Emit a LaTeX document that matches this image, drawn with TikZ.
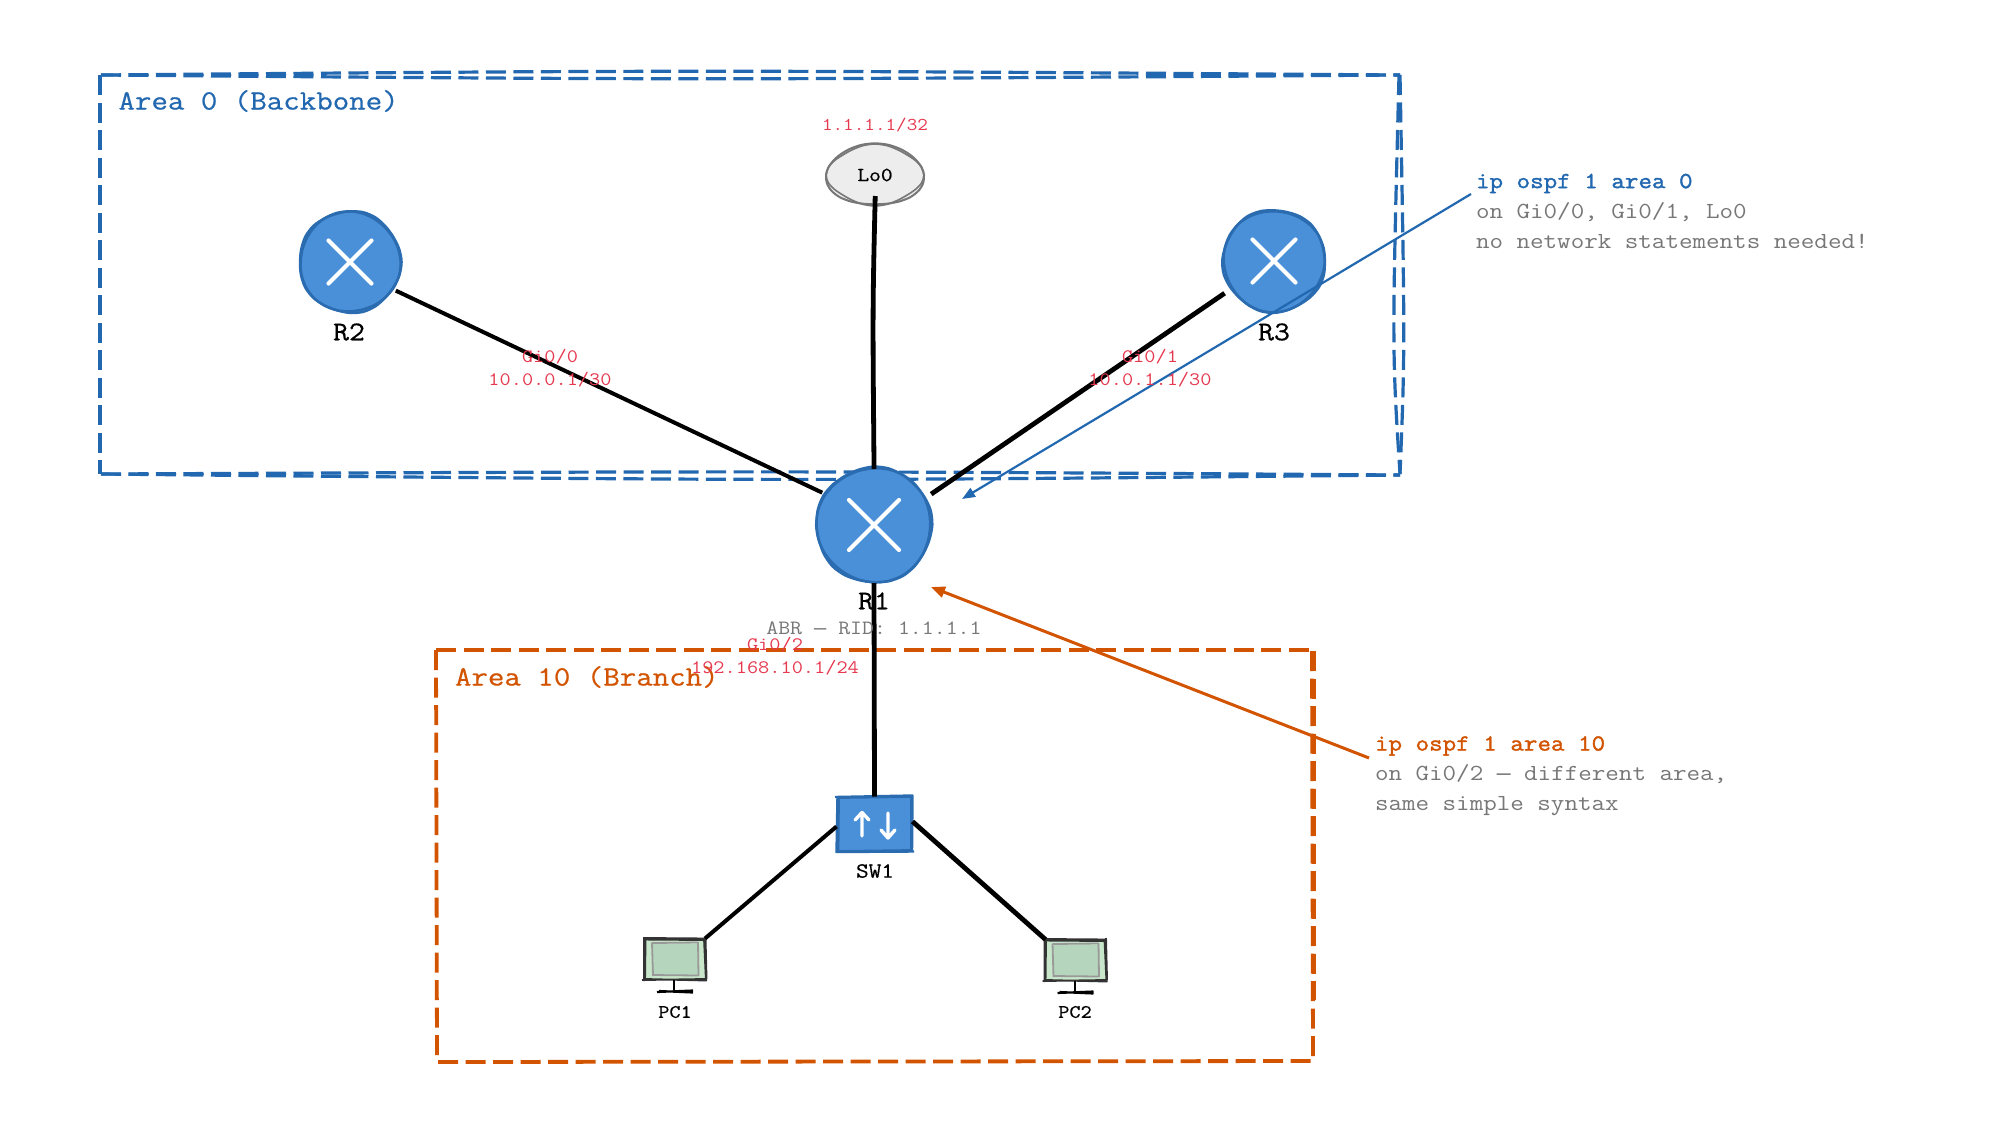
\documentclass[tikz,border=0pt]{standalone}
\usepackage{fontspec}
\usetikzlibrary{arrows.meta,calc,shapes.geometric}
\newfontfamily\mono[FakeStretch=1.143]{Latin Modern Mono}
\newfontfamily\monob[FakeStretch=1.143,FakeBold=1.6]{Latin Modern Mono}
\newfontfamily\monom[FakeStretch=1.143,FakeBold=0.6]{Latin Modern Mono}
\newfontfamily\dashfont{Liberation Mono}
\newcommand{\fsz}[2]{\fontsize{#1pt}{#2pt}\selectfont}
\definecolor{areablue}{HTML}{2268B0}
\definecolor{areaorange}{HTML}{D35400}
\definecolor{nodeblue}{HTML}{4A90D9}
\definecolor{strokeblue}{HTML}{2B6CB0}
\definecolor{linkred}{HTML}{E63950}
\definecolor{notegray}{HTML}{777777}
\definecolor{pcouter}{HTML}{C8E6C9}
\definecolor{pcscreen}{HTML}{B5D6BC}
\definecolor{pcline}{HTML}{333333}
\tikzset{
  txt/.style={inner sep=0pt,outer sep=0pt,text=black},
  devlabel/.style={txt,font=\monom\fsz{27}{30}},
  smalllabel/.style={txt,font=\monom\fsz{19}{22}},
  iflabel/.style={txt,text=linkred,font=\mono\fsz{19}{23},align=center},
  arealabel/.style={txt,anchor=west,font=\monom\fsz{28}{30}},
  notelabel/.style={txt,anchor=west,align=left,text=notegray,font=\mono\fsz{23}{30}},
  routernode/.style={circle,fill=nodeblue,minimum size=#1,inner sep=0pt,outer sep=3pt},
  rough/.style={draw=strokeblue,line width=2.4pt},
  xmark/.style={draw=white,line width=4.2pt,line cap=round},
  linkline/.style={draw=black,line width=4pt},
  areaB/.style={draw=areablue,line width=3.2pt,dash pattern=on 20pt off 7.5pt},
  areaO/.style={draw=areaorange,line width=3.8pt,dash pattern=on 20pt off 7.5pt},
  callB/.style={draw=areablue,line width=2.2pt,-{Triangle[length=13pt,width=10pt]}},
  callO/.style={draw=areaorange,line width=3pt,-{Triangle[length=14pt,width=11pt]}},
  pcbox/.style={rectangle,fill=pcouter,minimum width=60pt,minimum height=41pt,inner sep=0pt,outer sep=0pt},
  pcrough/.style={draw=pcline,line width=1.9pt},
  scrrough/.style={draw=black!40,line width=1.8pt},
}
\begin{document}
\begin{tikzpicture}[x=1pt,y=-1pt]
\useasboundingbox (0,0) rectangle (2000,1125);
\fill[white] (0,0) rectangle (2000,1125);
% area 0
\draw[areaB] (101,75) .. controls (700,70) .. (1400,75);
\draw[areaB] (101,75) .. controls (700,80) .. (1400,75);
\draw[areaB] (100,75) -- (100,474);
\draw[areaB] (1399,75) .. controls (1392,350) .. (1400,474);
\draw[areaB] (1400,75) .. controls (1405,350) .. (1400,474);
\draw[areaB] (101,474) .. controls (800,471) .. (1400,475);
\draw[areaB] (101,474) .. controls (800,481) .. (1400,475);
% area 10
\draw[areaO] (436,650) -- (1314,650);
\draw[areaO] (436,650) -- (437,1062);
\draw[areaO] (1312,651) -- (1313,1062);
\draw[areaO] (1314,651) -- (1314,1000);
\draw[areaO] (438,1062) -- (1314,1061);
\node[arealabel,text=areablue] (a0) at (118.5,101) {Area 0 (Backbone)};
\node[arealabel,text=areaorange] (a10) at (455,677) {Area 10 (Branch)};
% devices
\node[routernode=102pt] (r2) at (350,262) {};
\node[routernode=102pt] (r3) at (1274,261) {};
\node[routernode=116pt] (r1) at (874,525) {};
\foreach \c/\r/\p in {r2/50/40,r3/50.5/160,r1/57/250}{
  \draw[rough,shift={(\c)}] plot[smooth cycle,samples=24,domain=0:345] (\x:{\r+0.9*sin(3*\x+\p)});
  \draw[rough,shift={(\c)}] plot[smooth cycle,samples=24,domain=0:345] (\x:{\r+0.8+0.8*sin(5*\x+2*\p)});
}
\foreach \c/\e in {r2/21.5,r3/21.5,r1/25}{
  \draw[xmark] ($(\c)+(-\e,-\e)$) -- ($(\c)+(\e,\e)$);
  \draw[xmark] ($(\c)+(-\e,\e)$) -- ($(\c)+(\e,-\e)$);
}
\node[ellipse,fill=black!7,minimum width=98pt,minimum height=60pt,inner sep=0pt,outer sep=0pt] (lo) at (875,175) {};
\draw[notegray,line width=2pt,shift={(lo)}] plot[smooth cycle,samples=24,domain=0:345] ({(49+1.2*sin(3*\x))*cos(\x)},{(30.5+1.2*sin(3*\x))*sin(\x)});
\draw[notegray,line width=1.6pt,shift={(lo)}] plot[smooth cycle,samples=24,domain=0:345] ({(47.5+1.5*sin(4*\x+90))*cos(\x)},{(29.5+1.5*sin(4*\x+90))*sin(\x)});
\node[txt,font=\monom\fsz{20}{22}] (lotext) at (lo) {Lo0};
\node[rectangle,fill=nodeblue,minimum width=74pt,minimum height=54pt,inner sep=0pt,outer sep=1pt] (sw) at (874.5,824.5) {};
\draw[strokeblue,line width=2.4pt] (835,797) -- (913,795.5) (836,852) -- (914,851.5) (837.5,796) -- (836.5,853) (912.5,795) -- (912,852);
\draw[strokeblue,line width=1.8pt] (838,798) -- (912,797) (837,851) -- (912,850) (839,797) -- (838.5,851) (911,797) -- (911,851);
\draw[white,line width=3.4pt,line cap=round,line join=round] (862,836) -- (862,813) (855,820) -- (862,812.5) -- (869,820);
\draw[white,line width=3.4pt,line cap=round,line join=round] (888,813) -- (888,837) (881,830) -- (888,838) -- (895,830);
\node[pcbox] (pc1) at (675,959) {};
\node[pcbox] (pc2) at (1075.5,960) {};
\foreach \c in {pc1,pc2}{
  \node[rectangle,fill=pcscreen,minimum width=46pt,minimum height=31pt,inner sep=0pt] at (\c) {};
  \begin{scope}[shift={(\c)}]
    \draw[scrrough] (-23,-16) -- (23,-16.5) (-23,16) -- (23,16.5) (-23,-16.5) -- (-22,17) (23,-17) -- (23.5,17);
    \draw[pcrough] (-32,-21) -- (30,-20.5) (-31,-19.5) -- (30,-19) (-33,21) -- (32,20) (-31,20) -- (32,21.5) (-31,-22) -- (-31,22) (-29.5,-20) -- (-30,21) (29,-21) -- (31,22) (30.5,-22) -- (31.5,20);
    \draw[black,line width=2pt] (-1,21) -- (-1,33);
    \draw[black,line width=2.2pt] (-18,33) -- (18,31.5) (-16,32) -- (18,33.5);
  \end{scope}
}
% links
\draw[linkline] (r2.-32) -- (r1.148);
\draw[linkline,line width=4.8pt,shorten <=5pt,shorten >=4pt] (r3.213) -- (r1.28);
\draw[linkline,line width=4.8pt,shorten <=-9pt,shorten >=-5pt] (lo.south) .. controls ($(lo.south)!0.4!(r1.north)+(-2,0)$) .. (r1.north);
\draw[linkline,line width=4.8pt,shorten <=-3pt] (r1.south) -- (sw.north);
\draw[linkline] (sw.west) ++(0,2) -- (pc1.north east);
\draw[linkline,line width=4.8pt] (sw.east) ++(0,-3) -- (pc2.north west);
% callouts
\coordinate (noteB) at (1471,194);
\coordinate (tipB) at (962,499);
\coordinate (noteO) at (1369,758);
\coordinate (tipO) at (931,587);
\draw[callB] (noteB) -- (tipB);
\draw[callO] (noteO) -- (tipO);
% labels
\node[devlabel] (l2) at (349,332) {R2};
\node[devlabel] (l3) at (1274,332) {R3};
\node[devlabel] (l1) at (874,601) {R1};
\node[smalllabel,font=\monom\fsz{21.5}{22}] (lsw) at (875,871) {SW1};
\node[smalllabel] (lp1) at (675,1012) {PC1};
\node[smalllabel] (lp2) at (1075,1012) {PC2};
\node[txt,text=notegray,font=\mono\fsz{20.3}{24}] (abr) at (874,628) {ABR {\dashfont—} RID: 1.1.1.1};
\node[iflabel,font=\mono\fsz{18}{23}] (lo32) at (875,125) {1.1.1.1/32};
\node[iflabel] (g0) at (550,368.5) {Gi0/0\\10.0.0.1/30};
\node[iflabel] (g1) at (1150,368.5) {Gi0/1\\10.0.1.1/30};
\node[iflabel] (g2) at (775,656.5) {Gi0/2\\192.168.10.1/24};
\node[notelabel] (nb) at (1476,211) {{\monob\color{areablue}ip ospf 1 area 0}\\on Gi0/0, Gi0/1, Lo0\\no network statements needed!};
\node[notelabel] (no) at (1375,776) {{\monob\color{areaorange}ip ospf 1 area 10}\\on Gi0/2 {\dashfont—} different area,\\same simple syntax};
\end{tikzpicture}
\end{document}
